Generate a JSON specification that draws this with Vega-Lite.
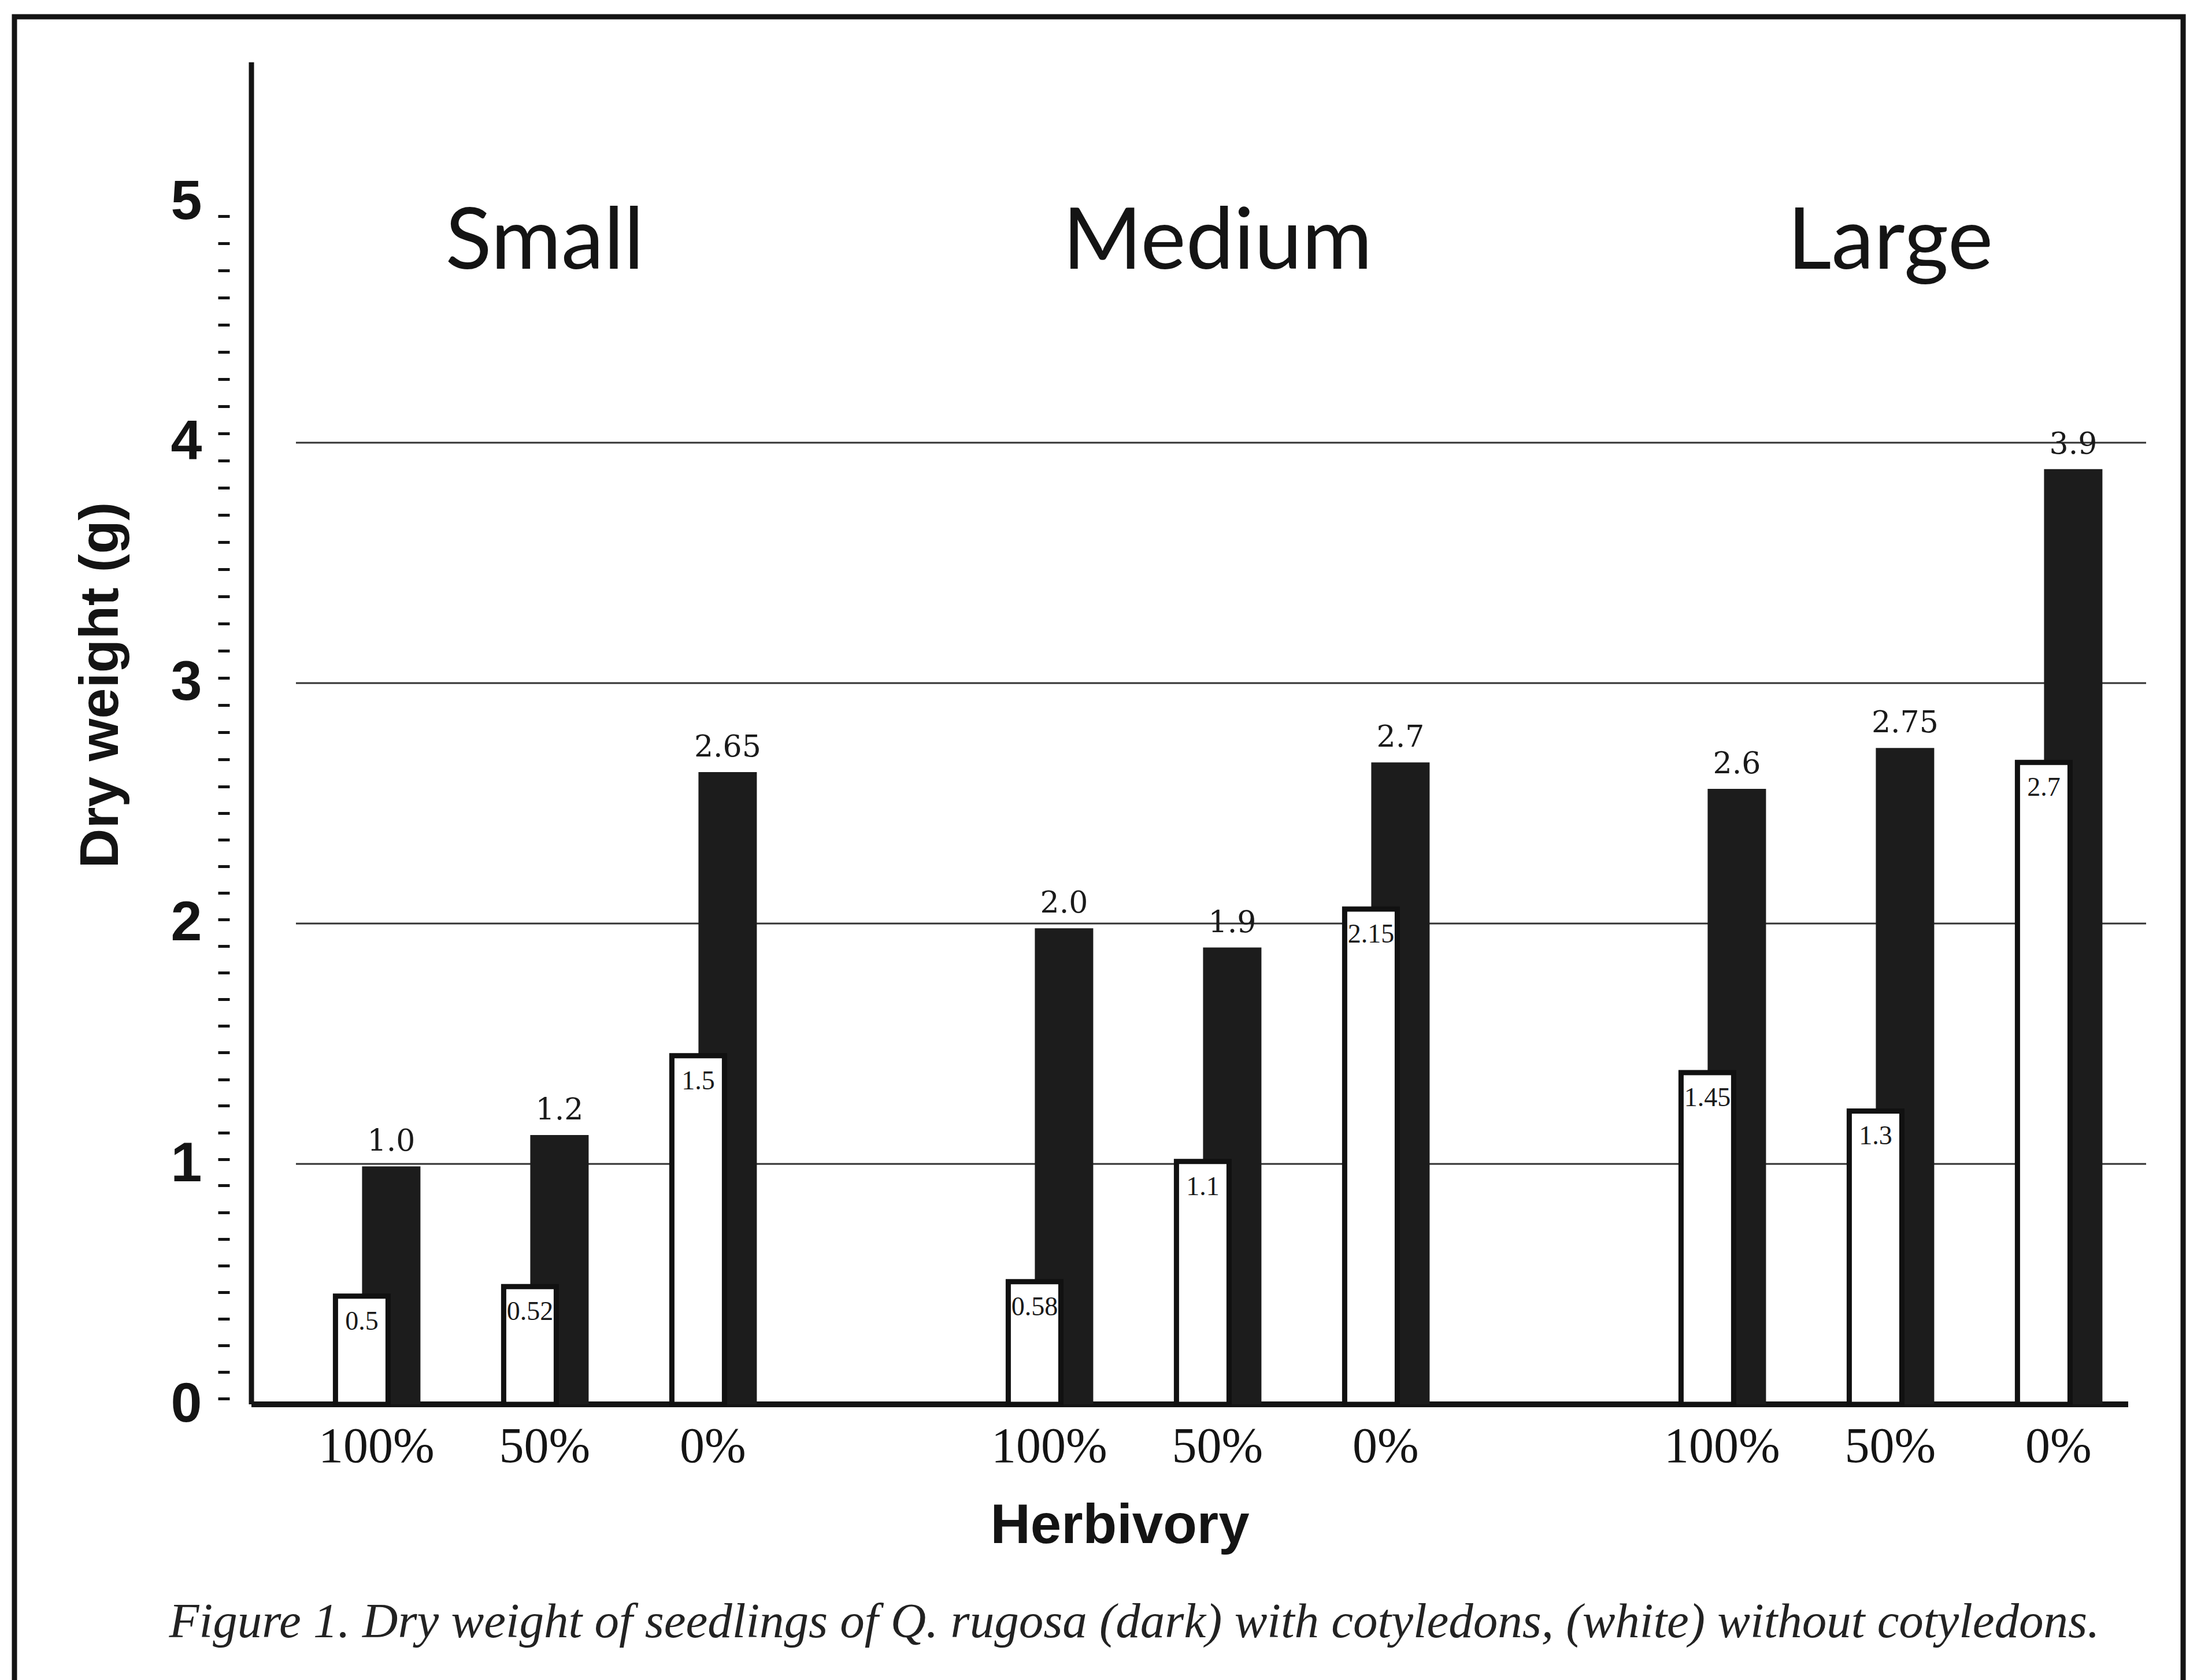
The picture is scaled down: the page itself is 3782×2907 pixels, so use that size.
{
  "$schema": "https://vega.github.io/schema/vega-lite/v6.json",
  "autosize": "none",
  "width": 3752,
  "height": 2901,
  "padding": {"left": 25, "top": 29, "right": 5, "bottom": 0},
  "background": "white",
  "config": {"view": {"stroke": "#141414", "strokeWidth": 9}},
  "datasets": {
    "weights": [
      {"treatment": "Small 100%", "size": "Small", "herbivory": "100%", "type": "with", "weight": 0.99, "label": "1.0"},
      {"treatment": "Small 50%", "size": "Small", "herbivory": "50%", "type": "with", "weight": 1.12, "label": "1.2"},
      {"treatment": "Small 0%", "size": "Small", "herbivory": "0%", "type": "with", "weight": 2.63, "label": "2.65"},
      {"treatment": "Medium 100%", "size": "Medium", "herbivory": "100%", "type": "with", "weight": 1.98, "label": "2.0"},
      {"treatment": "Medium 50%", "size": "Medium", "herbivory": "50%", "type": "with", "weight": 1.90, "label": "1.9"},
      {"treatment": "Medium 0%", "size": "Medium", "herbivory": "0%", "type": "with", "weight": 2.67, "label": "2.7"},
      {"treatment": "Large 100%", "size": "Large", "herbivory": "100%", "type": "with", "weight": 2.56, "label": "2.6"},
      {"treatment": "Large 50%", "size": "Large", "herbivory": "50%", "type": "with", "weight": 2.73, "label": "2.75"},
      {"treatment": "Large 0%", "size": "Large", "herbivory": "0%", "type": "with", "weight": 3.89, "label": "3.9"},
      {"treatment": "Small 100%", "size": "Small", "herbivory": "100%", "type": "without", "weight": 0.45, "label": "0.5"},
      {"treatment": "Small 50%", "size": "Small", "herbivory": "50%", "type": "without", "weight": 0.49, "label": "0.52"},
      {"treatment": "Small 0%", "size": "Small", "herbivory": "0%", "type": "without", "weight": 1.45, "label": "1.5"},
      {"treatment": "Medium 100%", "size": "Medium", "herbivory": "100%", "type": "without", "weight": 0.51, "label": "0.58"},
      {"treatment": "Medium 50%", "size": "Medium", "herbivory": "50%", "type": "without", "weight": 1.01, "label": "1.1"},
      {"treatment": "Medium 0%", "size": "Medium", "herbivory": "0%", "type": "without", "weight": 2.06, "label": "2.15"},
      {"treatment": "Large 100%", "size": "Large", "herbivory": "100%", "type": "without", "weight": 1.38, "label": "1.45"},
      {"treatment": "Large 50%", "size": "Large", "herbivory": "50%", "type": "without", "weight": 1.22, "label": "1.3"},
      {"treatment": "Large 0%", "size": "Large", "herbivory": "0%", "type": "without", "weight": 2.67, "label": "2.7"}
    ],
    "gridlines": [{"g": 1}, {"g": 2}, {"g": 3}, {"g": 4}],
    "groups": [
      {"size": "Small", "treatment": "Small 50%"},
      {"size": "Medium", "treatment": "Medium 50%"},
      {"size": "Large", "treatment": "Large 50%"}
    ]
  },
  "resolve": {"scale": {"x": "independent"}, "axis": {"x": "independent", "y": "independent"}},
  "layer": [
    {
      "layer": [
        {
          "data": {"name": "gridlines"},
          "mark": {"type": "rule", "stroke": "#333333", "strokeWidth": 3},
          "encoding": {
            "x": {
              "datum": 0.1298, "type": "quantitative",
              "scale": {"domain": [0, 1], "nice": false, "zero": false},
              "axis": {
                "orient": "bottom", "offset": -500, "domain": false, "ticks": false, "labels": false, "grid": false,
                "title": "Figure 1. Dry weight of seedlings of Q. rugosa (dark) with cotyledons, (white) without cotyledons.",
                "titleFont": "Liberation Serif", "titleFontStyle": "italic", "titleFontWeight": "normal", "titleFontSize": 85,
                "titleColor": "#222222", "titleX": 1937, "titleY": 402, "titleBaseline": "alphabetic", "titleAlign": "center",
                "titleLimit": 5000
              }
            },
            "x2": {"datum": 0.98294},
            "y": {
              "field": "g", "type": "quantitative",
              "scale": {"domain": [-1.2019, 5.7716], "nice": false, "zero": false},
              "axis": {
                "orient": "left", "offset": -372, "labels": false, "domain": false, "grid": false, "ticks": true,
                "tickSize": 20, "tickWidth": 5, "tickColor": "#141414", "title": null,
                "values": [0.024, 0.135, 0.245, 0.356, 0.467, 0.578, 0.688, 0.799, 0.910, 1.020, 1.131, 1.242, 1.352, 1.463, 1.574, 1.685, 1.795, 1.906, 2.017, 2.127, 2.238, 2.349, 2.459, 2.570, 2.683, 2.796, 2.909, 3.022, 3.135, 3.248, 3.361, 3.474, 3.587, 3.700, 3.813, 3.926, 4.039, 4.152, 4.265, 4.378, 4.491, 4.604, 4.717, 4.830, 4.943]
              }
            }
          }
        },
        {
          "data": {"values": [{}]},
          "mark": {"type": "rule", "stroke": "#141414", "strokeWidth": 9},
          "encoding": {
            "x": {"datum": 0.10928, "type": "quantitative"},
            "y": {"datum": 0, "type": "quantitative", "scale": {"domain": [-1.2019, 5.7716], "nice": false, "zero": false}},
            "y2": {"datum": 5.582}
          }
        },
        {
          "data": {"values": [{}]},
          "mark": {"type": "rule", "stroke": "#141414", "strokeWidth": 10},
          "encoding": {
            "x": {"datum": 0.10928, "type": "quantitative"},
            "x2": {"datum": 0.97468},
            "y": {"datum": 0, "type": "quantitative", "scale": {"domain": [-1.2019, 5.7716], "nice": false, "zero": false}}
          }
        }
      ]
    },
    {
      "data": {"name": "weights"},
      "layer": [
        {
          "transform": [{"filter": "datum.type === 'with'"}],
          "mark": {"type": "bar", "width": 101, "fill": "#1c1c1c"},
          "encoding": {
            "x": {
              "field": "treatment", "type": "nominal",
              "scale": {
                "domain": ["gap0", "Small 100%", "Small 50%", "Small 0%", "gap1", "Medium 100%", "Medium 50%", "Medium 0%", "gap2", "Large 100%", "Large 50%", "Large 0%"],
                "paddingInner": 0.6495, "paddingOuter": 0.7715, "align": 0.6334, "round": false
              },
              "axis": {
                "orient": "bottom", "offset": -500, "domain": false, "ticks": false, "tickSize": 0, "grid": false,
                "labelPadding": 31, "labelFont": "Liberation Serif", "labelFontSize": 86, "labelColor": "#141414",
                "labelAngle": 0, "labelLimit": 1000, "labelOverlap": false,
                "labelExpr": "indexof(datum.value, 'gap') == 0 ? '' : split(datum.value, ' ')[1]",
                "title": "Herbivory", "titleFont": "Liberation Sans", "titleFontWeight": "bold", "titleFontSize": 96,
                "titleColor": "#141414", "titleX": 1912, "titleY": 239, "titleBaseline": "alphabetic", "titleAlign": "center",
                "titleLimit": 2000
              }
            },
            "xOffset": {"field": "type", "type": "nominal", "scale": {"domain": ["without", "with"], "paddingInner": 0, "paddingOuter": 0}},
            "y": {
              "field": "weight", "type": "quantitative",
              "scale": {"domain": [-1.2019, 5.7716], "nice": false, "zero": false},
              "axis": {
                "orient": "left", "offset": -372, "values": [0, 1, 2, 3, 4, 5], "format": "d", "ticks": false, "tickSize": 0,
                "domain": false, "grid": false, "labelPadding": 48, "labelFont": "Liberation Sans", "labelFontWeight": "bold",
                "labelFontSize": 97, "labelColor": "#141414", "labelOverlap": false, "labelFlush": false,
                "title": "Dry weight (g)", "titleFont": "Liberation Sans", "titleFontWeight": "bold", "titleFontSize": 95,
                "titleColor": "#141414", "titleX": -223, "titleY": 1156, "titleBaseline": "middle", "titleAlign": "center",
                "titleAngle": 270, "titleLimit": 2000
              }
            }
          }
        },
        {
          "transform": [{"filter": "datum.type === 'without'"}],
          "mark": {"type": "bar", "width": 91, "fill": "white", "stroke": "#111111", "strokeWidth": 9},
          "encoding": {
            "x": {"field": "treatment", "type": "nominal"},
            "xOffset": {"field": "type", "type": "nominal"},
            "y": {"field": "weight", "type": "quantitative"}
          }
        },
        {
          "transform": [{"filter": "datum.type === 'with'"}],
          "mark": {"type": "text", "font": "DejaVu Serif", "fontSize": 52, "baseline": "middle", "align": "center", "dy": -43, "fill": "#1a1a1a"},
          "encoding": {
            "x": {"field": "treatment", "type": "nominal"},
            "xOffset": {"field": "type", "type": "nominal"},
            "y": {"field": "weight", "type": "quantitative"},
            "text": {"field": "label"}
          }
        },
        {
          "transform": [{"filter": "datum.type === 'without'"}],
          "mark": {"type": "text", "font": "Liberation Serif", "fontSize": 46, "baseline": "middle", "align": "center", "dy": 44, "fill": "#1a1a1a"},
          "encoding": {
            "x": {"field": "treatment", "type": "nominal"},
            "xOffset": {"field": "type", "type": "nominal"},
            "y": {"field": "weight", "type": "quantitative"},
            "text": {"field": "label"}
          }
        },
        {
          "data": {"name": "groups"},
          "mark": {"type": "text", "font": "Lato", "fontSize": 148, "baseline": "alphabetic", "align": "center", "fill": "#141414"},
          "encoding": {
            "x": {"field": "treatment", "type": "nominal"},
            "y": {"datum": 4.7236, "type": "quantitative"},
            "text": {"field": "size"}
          }
        }
      ]
    }
  ]
}
